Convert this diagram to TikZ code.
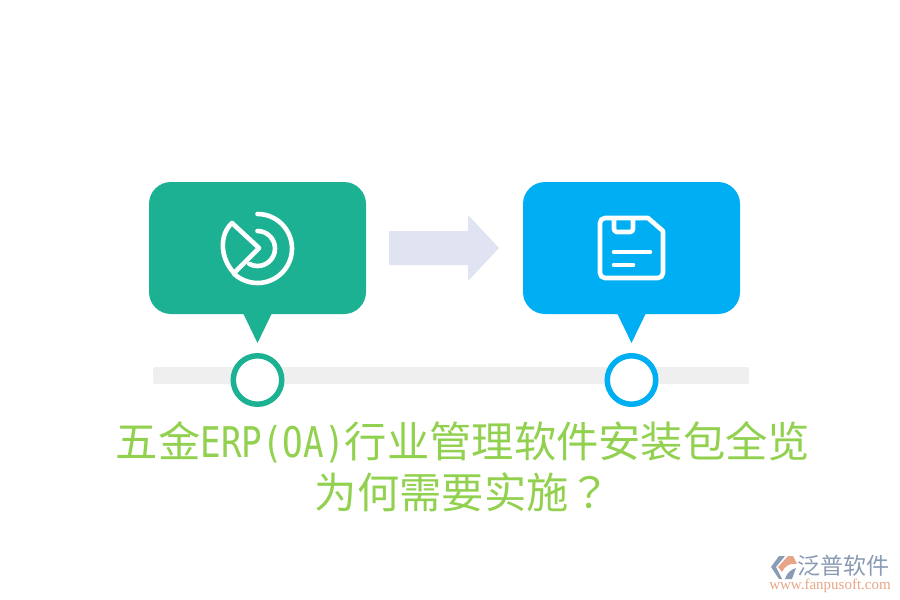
\documentclass[tikz,border=0pt]{standalone}
\usepackage{fontspec}
\setmainfont{Noto Sans CJK SC}
\newfontfamily\urlfont{Liberation Serif}
\newfontfamily\narrowfont[FakeStretch=0.81]{DejaVu Sans Mono}
\newfontfamily\markfont{Noto Sans CJK TC}
\usepackage{tikz}
\definecolor{bubblegreen}{HTML}{1CB192}
\definecolor{bubbleblue}{HTML}{00AEF3}
\definecolor{barcol}{HTML}{EFEFEF}
\definecolor{arrowcol}{HTML}{E0E4F2}
\definecolor{titlecol}{HTML}{92D14F}
\definecolor{logogray}{HTML}{8A9BB5}
\definecolor{logoorange}{HTML}{E8A585}

\begin{document}
\begin{tikzpicture}[x=1pt,y=-1pt,node distance=374pt,
			bubble node/.style={rectangle,rounded corners=22pt,inner sep=0pt,
				minimum width=217pt,minimum height=132pt},
			ring node/.style={circle,draw,fill=white,line width=5.5pt,inner sep=0pt,
				minimum size=48.5pt},
			icon line/.style={draw=white,line width=4.6pt,line cap=round,line join=round}]
			\useasboundingbox (0,0) rectangle (900,600);
			
			\node[fill=barcol,rounded corners=1.5pt,inner sep=0pt,minimum width=596pt,
				minimum height=17pt] (bar) at (451,375.5) {};
			
			\node[bubble node,fill=bubblegreen] (A) at (257.5,248) {};
			\node[bubble node,fill=bubbleblue] (B) [right of=A] {};
			\node[ring node,draw=bubblegreen] (C) at (257.5,380) {};
			\node[ring node,draw=bubbleblue] (D) [right of=C] {};
			
			% pointers
			\fill[bubblegreen] (243,313) -- (272,313) -- (257.5,343) -- cycle;
			\fill[bubbleblue] (617,313) -- (646,313) -- (631.5,343) -- cycle;
			
			% big arrow
			\fill[arrowcol] (389,231) -- (468,231) -- (468,215) -- (499,248)
				-- (468,281) -- (468,265) -- (389,265) -- cycle;
			
			% left icon
			\draw[icon line] (257.5,214) arc (-90:133:34.5);
			\draw[icon line] (234,273) -- (259,248) -- (232,223)
				.. controls (219,235) and (220,258) .. (234,273);
			\draw[icon line] (257.5,231) arc (-90:118:17.5);
			
			% right icon
			\draw[icon line] (605,218) -- (648,218) -- (663,231) -- (663,273)
				arc (0:90:5) -- (605,278) arc (90:180:5) -- (600,223) arc (180:270:5);
			\draw[icon line] (614,219) -- (614,229) arc (180:90:3) -- (630,232)
				arc (90:0:3) -- (633,219);
			\draw[icon line] (614,252) -- (650,252);
			\draw[icon line] (614,265) -- (633,265);
			
			\node[text=titlecol,font=\fontsize{42.3}{51}\selectfont,align=center,inner sep=0pt]
				(title) at (463,467) {五金{\narrowfont ERP(OA)}行业管理软件安装包全览\\为何需要实施{\markfont ？}};
			
			% logo
			\fill[logogray] (779,556) -- (785,556) -- (776,567) -- (782,579) -- (779,579)
				-- (771,567) -- cycle;
			\fill[logoorange] (788,556) -- (793,556) -- (797,564) .. controls (789,563) and (785,566) .. (782,572)
				-- (778,567) -- cycle;
			\fill[logogray] (785,579) .. controls (787,573) and (790,570) .. (796,568) -- (792,579) -- cycle;
			\node[text=logogray,font=\fontsize{23}{23}\selectfont,inner sep=0pt] (logotext) at (843,566) {泛普软件};
			\node[text=logoorange,font=\urlfont\fontsize{15}{15}\selectfont,inner sep=0pt]
				(logourl) at (830,586) {www.fanpusoft.com};
		\end{tikzpicture}
\end{document}
